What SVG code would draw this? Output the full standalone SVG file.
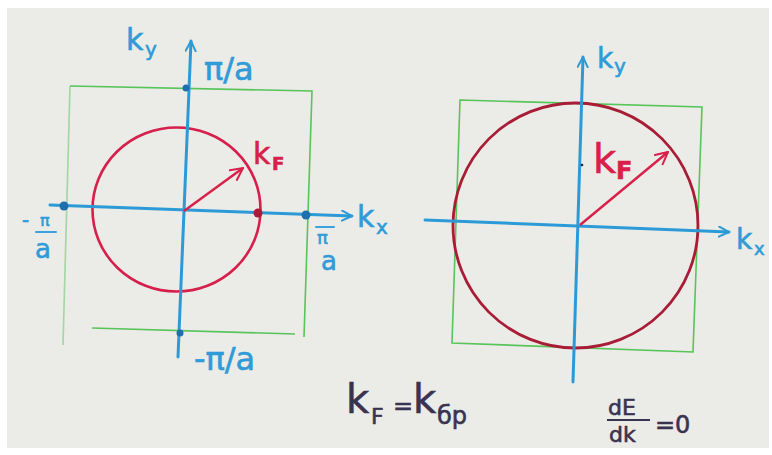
<svg xmlns="http://www.w3.org/2000/svg" width="772" height="455" viewBox="0 0 772 455">
<style>
.ax{stroke:#2b9ad6;stroke-width:3;fill:none;stroke-linecap:round;stroke-linejoin:round}
.axt{stroke:#3aa2dc;stroke-width:2;fill:none;stroke-linecap:round;stroke-linejoin:round}
.bz{stroke:#58c45a;stroke-width:1.6;fill:none}
.lbl{font-family:"DejaVu Sans","Liberation Sans",sans-serif;fill:#2f9bd8;stroke:#2f9bd8;stroke-width:0.6}
.red{font-family:"DejaVu Sans","Liberation Sans",sans-serif;fill:#d8204a;stroke:#d8204a;stroke-width:0.6}
.frm{font-family:"DejaVu Sans","Liberation Sans",sans-serif;fill:#3a3350;stroke:#3a3350;stroke-width:0.6}
.dot{fill:#1d6fae}
</style>
<defs>
<marker id="chev" viewBox="0 0 12 12" refX="11" refY="6" markerWidth="12" markerHeight="12" markerUnits="userSpaceOnUse" orient="auto">
<path d="M1,1 L11,6 L1,11" fill="none" stroke="#2b9ad6" stroke-width="2" stroke-linecap="round"/>
</marker>
<marker id="redhead" viewBox="0 0 14 14" refX="13" refY="7" markerWidth="14" markerHeight="14" markerUnits="userSpaceOnUse" orient="auto">
<path d="M1,1 L13,7 L1,13" fill="none" stroke="#d8204a" stroke-width="2" stroke-linecap="round"/>
</marker>
</defs>
<rect x="0" y="0" width="772" height="455" fill="#ffffff"/>
<rect x="7" y="8" width="762" height="440" fill="#ebebe7"/>

<g id="left-diagram">
  <g id="left-bz">
    <path class="bz" d="M70,86 L312,91 L304,337"/>
    <path class="bz" d="M92,328 L295,334"/>
    <path class="bz" d="M70,86 L63,345" stroke-opacity="0.5"/>
  </g>
  <ellipse id="left-fermi" cx="176.5" cy="209.5" rx="84" ry="82" fill="none" stroke="#d61f4a" stroke-width="2.6"/>
  <g id="left-axes">
    <path class="ax" d="M50,205 L352,216" marker-end="url(#chev)"/>
    <path class="ax" d="M178,357 L191,41" stroke-width="2.6" marker-end="url(#chev)"/>
  </g>
  <g id="left-dots">
    <circle class="dot" cx="186" cy="88" r="3.5"/>
    <circle class="dot" cx="64" cy="206" r="4.5"/>
    <circle class="dot" cx="306" cy="215" r="4.5"/>
    <circle class="dot" cx="180" cy="333" r="3.5"/>
    <circle cx="258" cy="213" r="4.5" fill="#b01838"/>
  </g>
  <line id="left-kf-arrow" x1="184" y1="211" x2="243" y2="168" stroke="#d8204a" stroke-width="2.4" marker-end="url(#redhead)"/>
  <g id="left-labels">
    <text class="lbl" x="126" y="50" font-size="30">k</text><text class="lbl" x="145" y="56" font-size="20">y</text>
    <text class="lbl" x="204" y="80" font-size="32">π/a</text>
    <text class="red" x="253" y="164" font-size="30">k</text><text class="red" x="272" y="170" font-size="18" font-weight="bold">F</text>
    <text class="lbl" x="357" y="227" font-size="30">k</text><text class="lbl" x="376" y="234" font-size="20">x</text>
    <text class="lbl" x="22" y="227" font-size="20">-</text>
    <text class="lbl" x="40" y="226" font-size="16">π</text>
    <line x1="36" y1="232" x2="56" y2="232" class="axt"/>
    <text class="lbl" x="35" y="258" font-size="26">a</text>
    <line x1="316" y1="227" x2="334" y2="227" class="axt"/>
    <text class="lbl" x="317" y="244" font-size="18">π</text>
    <text class="lbl" x="321" y="270" font-size="26">a</text>
    <text class="lbl" x="194" y="370" font-size="32">-π/a</text>
  </g>
</g>

<g id="right-diagram">
  <path id="right-bz" class="bz" d="M460,100 L702,107 L693,352 L452,343 Z"/>
  <circle id="right-fermi" cx="575.5" cy="225.5" r="122.5" fill="none" stroke="#a81c36" stroke-width="2.8"/>
  <g id="right-axes">
    <path class="ax" d="M425,220 L729,232" marker-end="url(#chev)"/>
    <path class="ax" d="M573,382 L583,57" stroke-width="2" marker-end="url(#chev)"/>
  </g>
  <circle cx="582" cy="165" r="1.3" fill="#222"/>
  <line id="right-kf-arrow" x1="580" y1="225" x2="668" y2="152" stroke="#d8204a" stroke-width="2.4" marker-end="url(#redhead)"/>
  <g id="right-labels">
    <text class="lbl" x="597" y="68" font-size="28">k</text><text class="lbl" x="614" y="73" font-size="20">y</text>
    <text class="red" x="593" y="173" font-size="40">k</text><text class="red" x="616" y="179" font-size="24" font-weight="bold">F</text>
    <text class="lbl" x="736" y="249" font-size="28">k</text><text class="lbl" x="754" y="255" font-size="18">x</text>
  </g>
</g>

<g id="formulas">
  <text class="frm" x="346" y="413" font-size="40">k</text>
  <text class="frm" x="371" y="424" font-size="22">F</text>
  <text class="frm" x="393" y="414" font-size="24">=</text>
  <text class="frm" x="413" y="413" font-size="40">k</text>
  <text class="frm" x="437" y="424" font-size="24">бр</text>
  <text class="frm" x="608" y="415" font-size="22">dE</text>
  <line x1="607" y1="420" x2="650" y2="420" stroke="#3a3350" stroke-width="2.2"/>
  <text class="frm" x="609" y="442" font-size="22">dk</text>
  <text class="frm" x="655" y="433" font-size="24">=0</text>
</g>
</svg>
